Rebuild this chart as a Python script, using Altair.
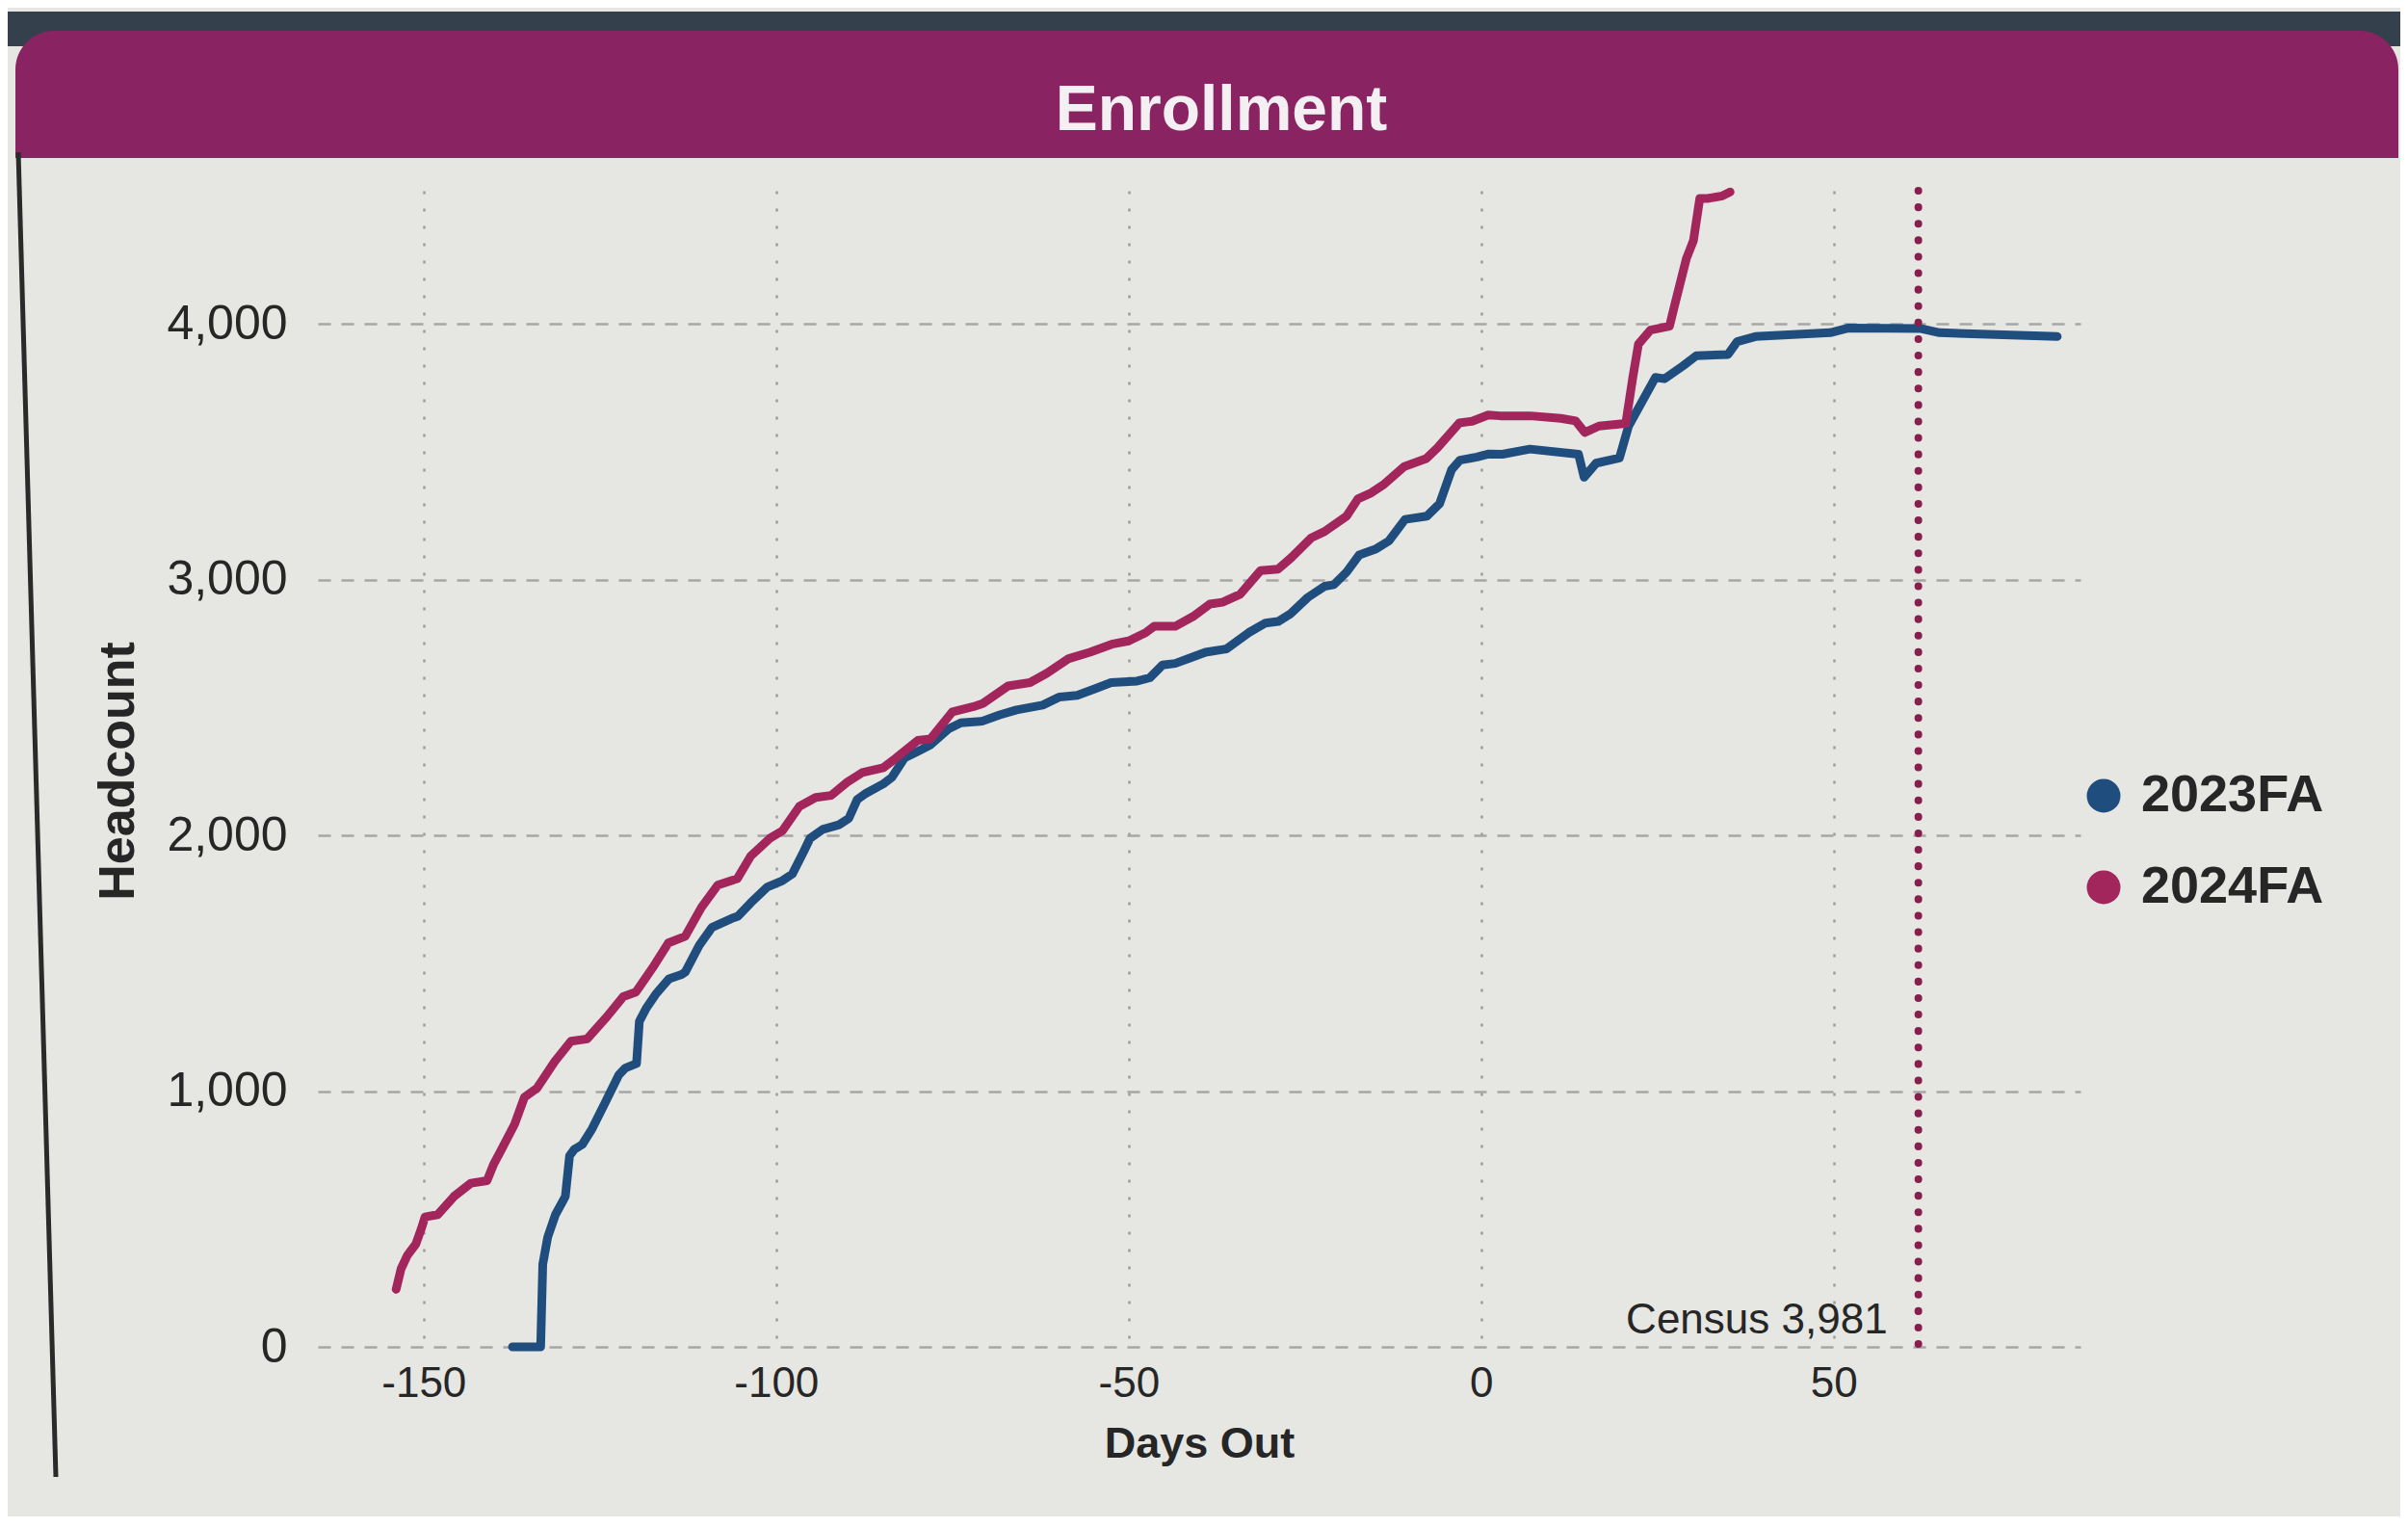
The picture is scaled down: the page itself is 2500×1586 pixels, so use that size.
import altair as alt
import pandas as pd

# ---------------- data ----------------
TERMS = ["2023FA", "2024FA"]
COLORS = ["#1f4d7d", "#a2255c"]

days_2023 = [-137.4, -133.4, -133.1, -132.4, -131.3, -129.9, -129.3, -128.6, -127.5, -126.1,
             -124.2, -122.3, -121.4, -119.8, -119.4, -118.4, -117.1, -115.2, -113.4, -112.9,
             -110.9, -109.1, -106.3, -105.4, -103.6, -101.3, -99.1, -97.7, -96.1, -95.2,
             -93.4, -91.1, -89.7, -88.5, -87.4, -84.8, -83.6, -81.8, -80.0, -78.2,
             -75.6, -73.8, -70.8, -68.3, -65.9, -62.2, -59.8, -57.3, -54.9, -52.5,
             -48.8, -47.0, -45.2, -43.4, -41.5, -39.1, -36.1, -33.0, -30.6, -28.8,
             -27.0, -24.6, -22.2, -20.9, -19.1, -17.3, -14.9, -13.1, -10.8, -7.7,
             -5.9, -4.2, -3.0, -0.6, 1.1, 3.0, 6.9, 13.8, 14.6, 16.3,
             19.6, 20.9, 24.7, 26.0, 28.6, 30.5, 35.0, 36.3, 38.9, 49.5,
             52.0, 62.4, 65.0, 81.7]
heads_2023 = [0, 0, 323, 429, 517, 588, 747, 773, 791, 853,
              958, 1064, 1090, 1108, 1273, 1325, 1378, 1439, 1456, 1465,
              1570, 1640, 1675, 1684, 1736, 1797, 1823, 1849, 1936, 1988,
              2023, 2041, 2066, 2140, 2162, 2201, 2226, 2302, 2327, 2352,
              2415, 2440, 2446, 2471, 2490, 2509, 2541, 2547, 2572, 2597,
              2603, 2616, 2666, 2672, 2691, 2716, 2729, 2792, 2830, 2836,
              2867, 2930, 2974, 2980, 3029, 3096, 3120, 3151, 3235, 3248,
              3297, 3430, 3467, 3479, 3491, 3490, 3510, 3490, 3400, 3455,
              3475, 3600, 3790, 3785, 3835, 3875, 3880, 3930, 3950, 3965,
              3983, 3981, 3965, 3950]

days_2024 = [-153.9, -153.2, -152.3, -151.1, -150.3, -149.8, -148.0, -145.7, -143.3, -141.0,
             -140.1, -139.1, -137.1, -135.7, -133.9, -131.4, -129.1, -126.8, -124.0, -121.7,
             -119.9, -117.5, -115.3, -112.9, -110.6, -108.3, -105.5, -103.6, -100.9, -99.1,
             -96.7, -94.4, -92.2, -89.9, -87.8, -84.8, -83.0, -79.9, -78.1, -75.0,
             -72.0, -70.7, -67.1, -64.0, -61.6, -58.5, -55.5, -52.4, -50.0, -47.6,
             -46.4, -43.4, -40.9, -38.5, -36.7, -34.2, -31.3, -28.8, -27.0, -24.1,
             -22.2, -19.1, -17.5, -15.6, -13.9, -10.9, -7.8, -6.2, -3.1, -1.3,
             1.0, 2.7, 7.0, 11.3, 13.4, 14.7, 16.7, 20.5, 21.5, 22.3,
             24.0, 26.7, 27.5, 29.1, 30.1, 31.0, 32.1, 34.2, 35.3]
heads_2024 = [225, 305, 358, 402, 464, 508, 517, 588, 640, 650,
              712, 764, 870, 976, 1012, 1116, 1195, 1204, 1291, 1369,
              1387, 1483, 1579, 1605, 1718, 1805, 1831, 1919, 1988, 2018,
              2113, 2148, 2156, 2208, 2245, 2264, 2302, 2371, 2377, 2483,
              2503, 2515, 2584, 2597, 2634, 2691, 2716, 2747, 2760, 2792,
              2817, 2817, 2855, 2904, 2911, 2942, 3035, 3041, 3084, 3163,
              3188, 3248, 3315, 3339, 3370, 3442, 3473, 3515, 3612, 3619,
              3643, 3640, 3640, 3630, 3620, 3575, 3600, 3610, 3790, 3920,
              3975, 3990, 4080, 4255, 4325, 4490, 4490, 4500, 4515]

census_day = 62
census_value = 3981

x_ticks = [-150, -100, -50, 0, 50]
y_ticks = [0, 1000, 2000, 3000, 4000]
x_domain = [-165, 85]
y_domain = [0, 4520]

chart_title = "Enrollment"
x_title = "Days Out"
y_title = "Headcount"

# ---------------- tables ----------------
df = pd.concat([
    pd.DataFrame({"day": days_2023, "headcount": heads_2023, "term": TERMS[0]}),
    pd.DataFrame({"day": days_2024, "headcount": heads_2024, "term": TERMS[1]}),
], ignore_index=True)

census_df = pd.DataFrame({"day": [census_day], "headcount": [0],
                          "label": [f"Census {census_value:,}"]})
title_df = pd.DataFrame({"t": [chart_title]})

FONT = "Liberation Sans"
W, H = 1830, 1200
BG = "#e6e6e2"
BANNER = "#8a2361"
TEXT = "#262626"

x_enc = alt.X(
    "day:Q",
    scale=alt.Scale(domain=x_domain, nice=False, zero=False),
    axis=alt.Axis(
        values=x_ticks, title=x_title,
        labelExpr="'' + datum.value",
        labelFont=FONT, labelFontSize=44, labelColor=TEXT, labelPadding=16,
        titleFont=FONT, titleFontSize=45, titleFontWeight="bold", titleColor=TEXT,
        titleY=114, titleBaseline="alphabetic",
        domain=False, ticks=False,
        grid=True, gridColor="#9c9c9c", gridWidth=2.5, gridDash=[3, 15],
    ),
)
y_enc = alt.Y(
    "headcount:Q",
    scale=alt.Scale(domain=y_domain, nice=False),
    axis=alt.Axis(
        values=y_ticks, title=y_title, format=",.0f",
        labelFont=FONT, labelFontSize=50, labelColor=TEXT, labelPadding=32,
        titleFont=FONT, titleFontSize=52, titleFontWeight="bold", titleColor=TEXT,
        titleX=-192, titleY=602, titleAngle=-90, titleAlign="center",
        titleBaseline="alphabetic",
        domain=False, ticks=False,
        grid=True, gridColor="#a6a6a6", gridWidth=2.5, gridDash=[13, 11],
    ),
)

# decorations (photo frame / banner)
bezel = alt.Chart(title_df).mark_rect(color="#34404c").encode(
    x=alt.value(-322), x2=alt.value(2180), y=alt.value(-186), y2=alt.value(-150))
banner = alt.Chart(title_df).mark_rect(
    color=BANNER, cornerRadiusTopLeft=40, cornerRadiusTopRight=40
).encode(x=alt.value(-314), x2=alt.value(2160), y=alt.value(-166), y2=alt.value(-34))
banner_text = alt.Chart(title_df).mark_text(
    font=FONT, fontSize=66, fontWeight="bold", color="#f4eff2",
    align="center", baseline="middle"
).encode(x=alt.value(938), y=alt.value(-83), text="t:N")
edge = alt.Chart(title_df).mark_rule(color="#2a2a2a", strokeWidth=5).encode(
    x=alt.value(-311), x2=alt.value(-272), y=alt.value(-40), y2=alt.value(1335))

lines = alt.Chart(df).mark_line(strokeJoin="round", strokeCap="round", clip=False).encode(
    x=x_enc,
    y=y_enc,
    color=alt.Color(
        "term:N",
        scale=alt.Scale(domain=TERMS, range=COLORS),
        legend=alt.Legend(
            title=None, orient="none", legendX=1827, legendY=601,
            symbolType="circle", symbolSize=306, symbolStrokeWidth=17.5,
            labelFont=FONT, labelFontSize=54, labelFontWeight="bold",
            labelColor=TEXT, labelOffset=12, labelLimit=500,
            rowPadding=7, padding=0,
        ),
    ),
    strokeWidth=alt.value(9),
)

census_rule = alt.Chart(census_df).mark_rule(
    color="#861f4e", strokeWidth=8, strokeDash=[0.1, 17], strokeCap="round"
).encode(x=x_enc)

census_text = alt.Chart(census_df).mark_text(
    font=FONT, fontSize=44, color=TEXT, align="right", baseline="alphabetic",
    dx=-32, dy=-14
).encode(x=x_enc, y=y_enc, text="label:N")

chart = alt.layer(
    bezel, banner, banner_text, edge, lines, census_rule, census_text
).properties(
    width=W, height=H,
    padding={"left": 322, "top": 190, "right": 332, "bottom": 176},
    autosize=alt.AutoSizeParams(type="none"),
    background=BG,
).configure_view(stroke=None)

chart.save("out.html", embed_options={"renderer": "svg", "actions": False})
